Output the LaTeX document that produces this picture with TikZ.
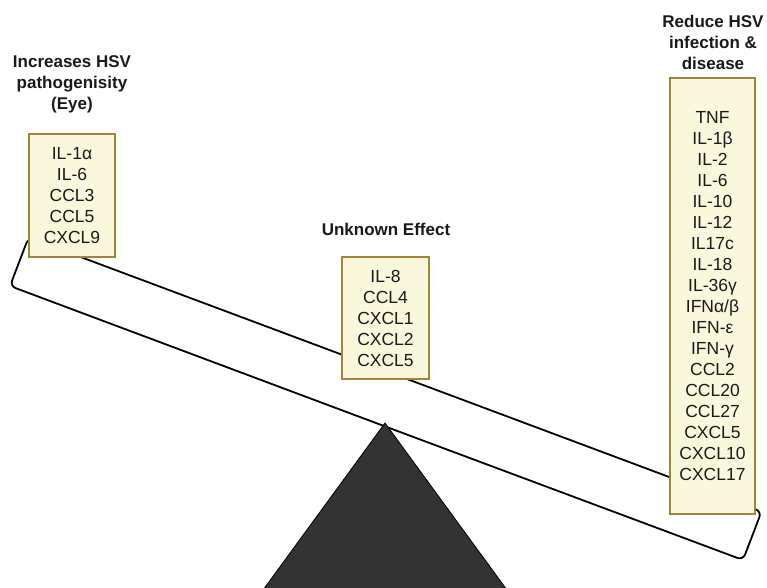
\documentclass[tikz,border=0pt]{standalone}
\usepackage{fontspec}
\setmainfont{Liberation Sans}
\definecolor{boxfill}{RGB}{250,248,220}
\definecolor{boxline}{RGB}{160,132,55}
\definecolor{fulcrum}{RGB}{51,51,51}
\definecolor{txt}{RGB}{25,25,25}
\begin{document}
\begin{tikzpicture}[x=1pt,y=-1pt,
  listbox/.style={draw=boxline,line width=2pt,fill=boxfill,align=center,inner sep=0pt,text=txt,
    font=\fontsize{17.5}{21}\selectfont},
  header/.style={align=center,text=txt,font=\fontsize{17}{21}\selectfont\bfseries}]
\useasboundingbox (0,0) rectangle (767,587);
% plank
\draw[line width=1.8pt,rounded corners=6pt,fill=white]
  (380,424.5) -- (743,560) -- (761.5,511.5) -- (28.5,237.5) -- (10,286) -- cycle;
% fulcrum
\draw[fill=fulcrum,line width=0.8pt] (385,423) -- (507,590) -- (263,590) -- cycle;
% boxes
\node[listbox,minimum width=86pt,minimum height=123pt] (left) at (72,195.5)
  {IL-1α\\IL-6\\CCL3\\CCL5\\CXCL9};
\node[listbox,minimum width=87pt,minimum height=122pt] (mid) at (385.5,318)
  {IL-8\\CCL4\\CXCL1\\CXCL2\\CXCL5};
\node[listbox,minimum width=85pt,minimum height=436pt] (right) at (712.5,296)
  {TNF\\IL-1β\\IL-2\\IL-6\\IL-10\\IL-12\\IL17c\\IL-18\\IL-36γ\\IFNα/β\\IFN-ε\\IFN-γ\\CCL2\\CCL20\\CCL27\\CXCL5\\CXCL10\\CXCL17};
% headers
\node[header] (hleft) at (72,84) {Increases HSV\\pathogenisity\\(Eye)};
\node[header] (hmid) at (386,229) {Unknown Effect};
\node[header] (hright) at (713,42) {Reduce HSV\\infection \&\\disease};
\end{tikzpicture}
\end{document}
